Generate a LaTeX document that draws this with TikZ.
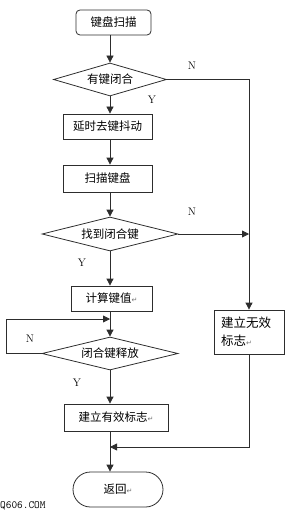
\documentclass[tikz,border=0pt]{standalone}
\usepackage{fontspec}
\usepackage{xcolor}
\usetikzlibrary{shapes.geometric,arrows.meta,calc}
\newfontfamily\cjk{Noto Sans CJK SC}
\newfontfamily\symfont{DejaVu Sans}
\definecolor{flowline}{RGB}{45,45,45}
\newcommand{\pmark}{{\symfont\fontsize{7}{7}\selectfont\color{black!55}↵}}
\tikzset{
  proc/.style={draw=flowline,line width=0.8pt,rectangle,inner sep=0pt,
    font=\cjk\fontsize{11.5}{15}\selectfont},
  term/.style={proc,rounded corners=4pt},
  decide/.style={proc,diamond,aspect=3.4},
  arr/.style={draw=flowline,line width=0.8pt,-{Triangle[length=7pt,width=7pt]}},
  yn/.style={inner sep=0pt,font=\fontsize{11}{13}\selectfont}
}

\begin{document}
\begin{tikzpicture}[x=1pt,y=-1pt]
  \useasboundingbox (0,0) rectangle (291,513);

  % main column
  \node[term,minimum width=75pt,minimum height=25pt] (start) at (113.5,22.5) {键盘扫描};
  \node[decide,minimum width=113pt,minimum height=33pt] (d1) at (110,79.5) {有键闭合};
  \node[proc,minimum width=89pt,minimum height=25pt] (b1) at (107.5,126.5) {延时去键抖动};
  \node[proc,minimum width=89pt,minimum height=27pt] (b2) at (107.5,178.5) {扫描键盘};
  \node[decide,minimum width=136pt,minimum height=34pt] (d2) at (110,234) {找到闭合键};
  \node[proc,minimum width=81pt,minimum height=25pt] (b3) at (111.5,298.5) {计算键值\pmark};
  \node[decide,minimum width=136pt,minimum height=33pt] (d3) at (110,353.5) {闭合键释放};
  \node[proc,minimum width=104pt,minimum height=27pt] (b4) at (116,417.5) {建立有效标志\pmark};
  \node[term,rounded corners=17.5pt,minimum width=90pt,minimum height=35pt] (ret) at (118,489.5) {返回\pmark};

  % right column
  \node[proc,align=left,text width=56pt,inner xsep=7pt,minimum height=44pt,
    font=\cjk\fontsize{12.5}{18}\selectfont] (bad) at (249,332) {建立无效\\标志\pmark};

  \coordinate (back) at (110,319);
  \coordinate (merge) at (110,447);

  % connectors
  \draw[arr] (d1.north |- start.south) -- (d1.north);
  \draw[arr] (d1.south) -- (d1.south |- b1.north);
  \draw[arr] (d1.south |- b1.south) -- (d1.south |- b2.north);
  \draw[arr] (d2.north |- b2.south) -- (d2.north);
  \draw[arr] (d2.south) -- (d2.south |- b3.north);
  \draw[arr] (d2.south |- b3.south) -- (d3.north);
  \draw[arr] (d3.south) -- (d3.south |- b4.north);
  \draw[arr] (d3.south |- b4.south) -- (d3.south |- ret.north);
  \draw[arr] (d3.west) -- ++(-35.5,0) |- (back);
  \draw[arr] (d1.east) -| (bad.north);
  \draw[arr] (d2.east) -- (d2.east -| bad.north);
  \draw[arr] (bad.south) |- (merge);

  % branch labels
  \node[yn] (n1) at (192,66) {N};
  \node[yn] (y1) at (152,100) {Y};
  \node[yn] (n2) at (192,212) {N};
  \node[yn] (y2) at (82,263) {Y};
  \node[yn] (n3) at (30,339) {N};
  \node[yn] (y3) at (77,383) {Y};

  \node[anchor=west,inner sep=0pt,font=\ttfamily\fontsize{11}{12}\selectfont] (mark) at (0,506) {Q606.COM};
\end{tikzpicture}
\end{document}
